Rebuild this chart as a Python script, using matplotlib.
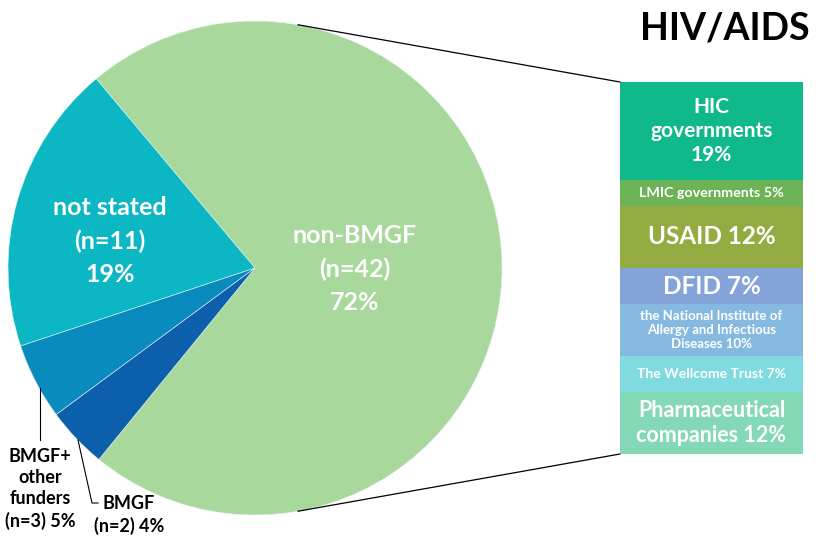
import numpy as np
import matplotlib.pyplot as plt
from matplotlib.patches import ConnectionPatch

plt.rcParams['font.family'] = ['Lato', 'DejaVu Sans']
plt.rcParams['font.weight'] = 'bold'

# Pie data (percent of HIV/AIDS studies by funder)
pie_labels = ["non-BMGF\n(n=42)\n72%", "not stated\n(n=11)\n19%",
              "BMGF+\nother\nfunders\n(n=3) 5%", "BMGF\n(n=2) 4%"]
pie_values = [72, 19, 5, 4]
pie_colors = ["#a8d89b", "#0ab7c2", "#0a8bbd", "#0c5fab"]

# Breakdown of the non-BMGF slice
bar_labels = ["HIC\ngovernments\n19%", "LMIC governments 5%", "USAID 12%", "DFID 7%",
              "the National Institute of\nAllergy and Infectious\nDiseases 10%",
              "The Wellcome Trust 7%", "Pharmaceutical\ncompanies 12%"]
bar_values = [19, 5, 12, 7, 10, 7, 12]
bar_colors = ["#10b98a", "#6cb257", "#93ac41", "#84a3d8", "#85b9e0", "#7fdbe0", "#83d9b6"]
bar_fontsizes = [15, 10.3, 17.5, 17.5, 9.5, 10, 15.5]

W, H = 816, 539
fig = plt.figure(figsize=(W / 100, H / 100), dpi=100)
ax = fig.add_axes([0, 0, 1, 1])

cx, cy, r = 255, 271, 247
start = 230.8
ax.pie(pie_values, colors=pie_colors, startangle=start, counterclock=True,
       center=(cx, cy), radius=r, wedgeprops=dict(linewidth=0.4, edgecolor="#e8f4f4"))
ax.set_xlim(0, W)
ax.set_ylim(0, H)
ax.set_aspect("equal")
ax.set_axis_off()

# labels inside pie
ax.text(355, 270, pie_labels[0], color="white", fontsize=18, ha="center", va="center",
        linespacing=1.55)
ax.text(110, 298, pie_labels[1], color="white", fontsize=18, ha="center", va="center",
        linespacing=1.55)
ax.text(40, 50, pie_labels[2], color="black", fontsize=13, ha="center", va="center",
        linespacing=1.3)
ax.text(129, 24, pie_labels[3], color="black", fontsize=13, ha="center", va="center",
        linespacing=1.3)
ax.plot([40, 40], [H - 388, H - 440], color="black", lw=0.8)
ax.plot([78, 92, 98], [H - 440, H - 503, H - 503], color="black", lw=0.8)

ax.text(810, H - 29, "HIV/AIDS", fontsize=27, ha="right", va="center")

# stacked bar
bax = fig.add_axes([620 / W, 85 / H, 183 / W, 372 / H])
bottoms = np.concatenate([[0], np.cumsum(bar_values)[:-1]])
bax.bar(0, bar_values, bottom=bottoms, width=1, color=bar_colors)
for lab, v, b, fs in zip(bar_labels, bar_values, bottoms, bar_fontsizes):
    bax.text(0, b + v / 2, lab, color="white", fontsize=fs, ha="center", va="center",
             linespacing=1.25)
bax.set_xlim(-0.5, 0.5)
bax.set_ylim(sum(bar_values), 0)
bax.set_axis_off()

# connectors from pie to bar
for ang, yb in [(80, 0), (-80, sum(bar_values))]:
    px = cx + r * np.cos(np.radians(ang))
    py = cy + r * np.sin(np.radians(ang))
    con = ConnectionPatch(xyA=(px, py), coordsA=ax.transData,
                          xyB=(-0.5, yb), coordsB=bax.transData,
                          color="black", lw=0.9)
    fig.add_artist(con)

fig.savefig("out.png", dpi=100)
